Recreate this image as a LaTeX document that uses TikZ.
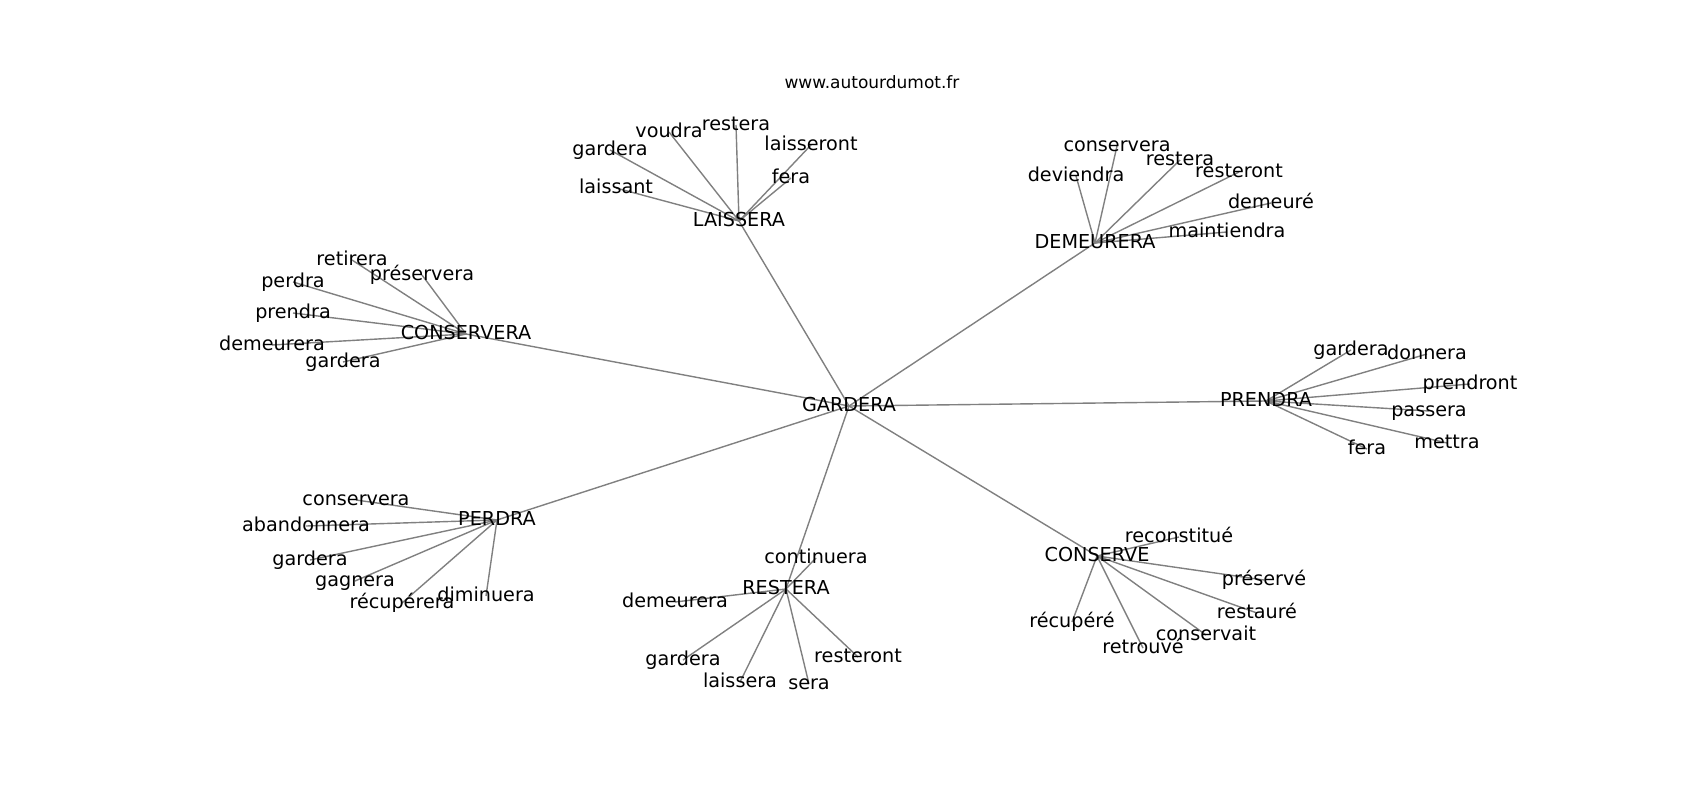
\documentclass[tikz,border=0pt]{standalone}
\usepackage{fontspec}
\setmainfont{DejaVu Sans}
\usetikzlibrary{backgrounds}
\tikzset{
  lbl/.style={inner sep=0pt, outer sep=0pt, font=\fontsize{19.2bp}{22bp}\selectfont, text height=14.4bp, text depth=4.4bp},
  ttl/.style={inner sep=0pt, outer sep=0pt, font=\fontsize{17bp}{20bp}\selectfont, text height=12.9bp, text depth=3.9bp},
  link/.style={draw=gray, line width=1.4bp}
}
\begin{document}
\begin{tikzpicture}[x=1bp,y=-1bp]
\useasboundingbox (0,0) rectangle (1700,800);
\node[ttl] (title) at (872,84) {www.autourdumot.fr};
% hubs
\node[lbl] (g)   at (849,406) {GARDERA};
\node[lbl] (lai) at (739,221) {LAISSERA};
\node[lbl] (dem) at (1095,243) {DEMEURERA};
\node[lbl] (cva) at (466,334) {CONSERVERA};
\node[lbl] (pre) at (1266,401) {PRENDRA};
\node[lbl] (per) at (497,520) {PERDRA};
\node[lbl] (res) at (786,589) {RESTERA};
\node[lbl] (cve) at (1097,556) {CONSERVE};
% LAISSERA leaves
\node[lbl] (lai1) at (616,188) {laissant};
\node[lbl] (lai2) at (610,150) {gardera};
\node[lbl] (lai3) at (669,132) {voudra};
\node[lbl] (lai4) at (736,125) {restera};
\node[lbl] (lai5) at (811,145) {laisseront};
\node[lbl] (lai6) at (791,178) {fera};
% DEMEURERA leaves
\node[lbl] (dem1) at (1117,146) {conservera};
\node[lbl] (dem2) at (1076,176) {deviendra};
\node[lbl] (dem3) at (1180,160) {restera};
\node[lbl] (dem4) at (1239,172) {resteront};
\node[lbl] (dem5) at (1271,203) {demeuré};
\node[lbl] (dem6) at (1227,232) {maintiendra};
% CONSERVERA leaves
\node[lbl] (cva1) at (352,260) {retirera};
\node[lbl] (cva2) at (422,275) {préservera};
\node[lbl] (cva3) at (293,282) {perdra};
\node[lbl] (cva4) at (293,313) {prendra};
\node[lbl] (cva5) at (272,345) {demeurera};
\node[lbl] (cva6) at (343,362) {gardera};
% PRENDRA leaves
\node[lbl] (pre1) at (1351,350) {gardera};
\node[lbl] (pre2) at (1427,354) {donnera};
\node[lbl] (pre3) at (1470,384) {prendront};
\node[lbl] (pre4) at (1429,411) {passera};
\node[lbl] (pre5) at (1447,443) {mettra};
\node[lbl] (pre6) at (1367,449) {fera};
% PERDRA leaves
\node[lbl] (per1) at (356,500) {conservera};
\node[lbl] (per2) at (306,526) {abandonnera};
\node[lbl] (per3) at (310,560) {gardera};
\node[lbl] (per4) at (355,581) {gagnera};
\node[lbl] (per5) at (402,603) {récupérera};
\node[lbl] (per6) at (486,596) {diminuera};
% RESTERA leaves
\node[lbl] (res1) at (816,558) {continuera};
\node[lbl] (res2) at (675,602) {demeurera};
\node[lbl] (res3) at (683,660) {gardera};
\node[lbl] (res4) at (740,682) {laissera};
\node[lbl] (res5) at (809,684) {sera};
\node[lbl] (res6) at (858,657) {resteront};
% CONSERVE leaves
\node[lbl] (cve1) at (1179,537) {reconstitué};
\node[lbl] (cve2) at (1264,580) {préservé};
\node[lbl] (cve3) at (1257,613) {restauré};
\node[lbl] (cve4) at (1206,635) {conservait};
\node[lbl] (cve5) at (1143,648) {retrouvé};
\node[lbl] (cve6) at (1072,622) {récupéré};
\begin{scope}[on background layer]
  \foreach \h in {lai,dem,cva,pre,per,res,cve}{
    \draw[link] (g.center) -- (\h.center);
    \foreach \i in {1,...,6}{
      \draw[link] (\h.center) -- (\h\i.center);
    }
  }
\end{scope}
\end{tikzpicture}
\end{document}
